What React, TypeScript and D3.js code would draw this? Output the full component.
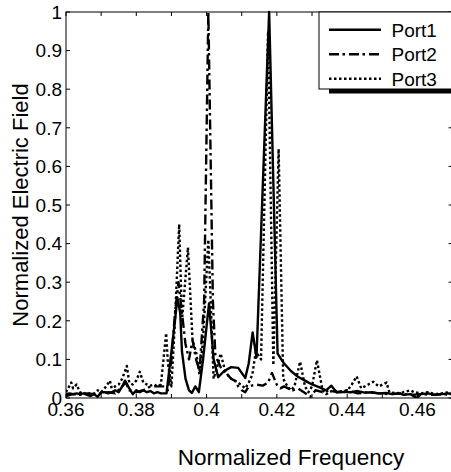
import React from "react";
import * as d3 from "d3";

// Port1 (solid) frequency / field samples
const port1Freq = [
  0.36, 0.361, 0.362, 0.363, 0.364, 0.365, 0.366, 0.367, 0.368, 0.369, 0.37, 0.371, 0.372, 0.373,
  0.374, 0.375, 0.376, 0.3768, 0.378, 0.379, 0.38, 0.381, 0.382, 0.383, 0.384, 0.385, 0.386,
  0.387, 0.3886, 0.39, 0.391, 0.3917, 0.3925, 0.393, 0.394, 0.395, 0.3958, 0.3968, 0.3978,
  0.399, 0.4007, 0.402, 0.4033, 0.405, 0.407, 0.409, 0.41, 0.411, 0.412, 0.4131, 0.4142,
  0.4178, 0.4202, 0.422, 0.424, 0.426, 0.428, 0.43, 0.432, 0.434, 0.4355, 0.437, 0.439, 0.441,
  0.443, 0.445, 0.447, 0.449, 0.451, 0.453, 0.455, 0.456, 0.458, 0.4598, 0.461, 0.463, 0.465,
  0.467, 0.469, 0.47,
];
const port1Val = [
  0.01, 0.012, 0.01, 0.012, 0.01, 0.012, 0.008, 0.005, 0.01, 0.003, 0.015, 0.015, 0.012, 0.015,
  0.02, 0.015, 0.03, 0.045, 0.025, 0.01, 0.02, 0.015, 0.02, 0.015, 0.018, 0.012, 0.015, 0.012,
  0.012, 0.12, 0.2, 0.26, 0.22, 0.12, 0.05, 0.02, 0.013, 0.03, 0.015, 0.1, 0.245, 0.1, 0.054,
  0.07, 0.08, 0.078, 0.065, 0.052, 0.09, 0.17, 0.105, 1.0, 0.115, 0.09, 0.07, 0.055, 0.045,
  0.035, 0.028, 0.02, 0.032, 0.015, 0.016, 0.015, 0.018, 0.014, 0.015, 0.012, 0.013, 0.01,
  0.012, 0.008, 0.01, 0.0, 0.01, 0.012, 0.008, 0.01, 0.012, 0.008,
];

// Port2 (dash-dot)
const port2Freq = [
  0.36, 0.362, 0.364, 0.366, 0.368, 0.37, 0.372, 0.374, 0.376, 0.377, 0.378, 0.38, 0.382,
  0.384, 0.386, 0.388, 0.389, 0.39, 0.391, 0.392, 0.393, 0.394, 0.395, 0.396, 0.397, 0.398,
  0.3993, 0.4005, 0.4018, 0.4025, 0.403, 0.404, 0.405, 0.406, 0.407, 0.408, 0.409, 0.41, 0.411,
  0.412, 0.414, 0.416, 0.4175, 0.4186, 0.42, 0.421, 0.422, 0.4245, 0.426, 0.428, 0.4295, 0.431,
  0.433, 0.435, 0.437, 0.44, 0.443, 0.446, 0.449, 0.452, 0.455, 0.458, 0.461, 0.464, 0.467,
  0.47,
];
const port2Val = [
  0.005, 0.01, 0.008, 0.012, 0.01, 0.012, 0.015, 0.012, 0.03, 0.04, 0.02, 0.015, 0.02, 0.03,
  0.03, 0.03, 0.02, 0.1, 0.22, 0.3, 0.22, 0.14, 0.1, 0.15, 0.1, 0.07, 0.25, 1.0, 0.25, 0.11,
  0.1, 0.08, 0.07, 0.06, 0.05, 0.045, 0.03, 0.02, 0.015, 0.03, 0.035, 0.032, 0.04, 0.065,
  0.034, 0.025, 0.03, 0.02, 0.025, 0.013, 0.003, 0.02, 0.015, 0.02, 0.015, 0.02, 0.012, 0.015,
  0.012, 0.01, 0.012, 0.008, 0.01, 0.008, 0.01, 0.008,
];

// Port3 (dotted)
const port3Freq = [
  0.36, 0.3615, 0.362, 0.363, 0.364, 0.365, 0.366, 0.367, 0.368, 0.369, 0.37, 0.371, 0.3725,
  0.373, 0.374, 0.375, 0.376, 0.3773, 0.378, 0.379, 0.38, 0.381, 0.382, 0.383, 0.384, 0.385,
  0.386, 0.387, 0.3885, 0.389, 0.39, 0.391, 0.3922, 0.393, 0.3947, 0.396, 0.397, 0.398, 0.399,
  0.4005, 0.402, 0.403, 0.404, 0.405, 0.406, 0.407, 0.409, 0.411, 0.412, 0.413, 0.414, 0.4155,
  0.4175, 0.419, 0.4205, 0.4218, 0.423, 0.424, 0.425, 0.4266, 0.428, 0.429, 0.43, 0.4314,
  0.433, 0.434, 0.436, 0.438, 0.44, 0.441, 0.4427, 0.444, 0.446, 0.4474, 0.449, 0.4512, 0.452,
  0.454, 0.456, 0.458, 0.459, 0.461, 0.463, 0.465, 0.467, 0.469, 0.47,
];
const port3Val = [
  0.015, 0.04, 0.025, 0.035, 0.015, 0.01, 0.015, 0.01, 0.012, 0.02, 0.015, 0.025, 0.045, 0.025,
  0.03, 0.035, 0.05, 0.083, 0.04, 0.035, 0.045, 0.068, 0.04, 0.035, 0.032, 0.035, 0.03, 0.035,
  0.168, 0.09, 0.03, 0.2, 0.45, 0.2, 0.39, 0.15, 0.12, 0.06, 0.15, 0.41, 0.05, 0.08, 0.115,
  0.08, 0.06, 0.05, 0.04, 0.025, 0.04, 0.06, 0.12, 0.1, 0.95, 0.085, 0.645, 0.05, 0.03, 0.02,
  0.03, 0.094, 0.03, 0.015, 0.03, 0.098, 0.02, 0.01, 0.02, 0.015, 0.02, 0.03, 0.056, 0.025,
  0.035, 0.042, 0.03, 0.04, 0.015, 0.012, 0.015, 0.02, 0.015, 0.012, 0.015, 0.01, 0.012, 0.015,
  0.012,
];

const seriesNames = ["Port1", "Port2", "Port3"];
const yTicks = [0, 0.1, 0.2, 0.3, 0.4, 0.5, 0.6, 0.7, 0.8, 0.9, 1];
const yTickLabels = ["0", "0.1", "0.2", "0.3", "0.4", "0.5", "0.6", "0.7", "0.8", "0.9", "1"];
const xTicks = [0.36, 0.37, 0.38, 0.39, 0.4, 0.41, 0.42, 0.43, 0.44, 0.45, 0.46, 0.47];
const xLabelTicks = [0.36, 0.38, 0.4, 0.42, 0.44, 0.46];
const xTickLabels = ["0.36", "0.38", "0.4", "0.42", "0.44", "0.46"];

const font = "'Liberation Sans', Arial, Helvetica, sans-serif";
const dashes = ["none", "10,3.5,2.5,4", "2.5,2.5"];

export default function App() {
  const left = 66,
    top = 12,
    bottom = 398,
    right = 452.6;
  const x = d3.scaleLinear().domain([0.36, 0.47]).range([left, right]);
  const y = d3.scaleLinear().domain([0, 1]).range([bottom, top]);

  const line = d3
    .line<[number, number]>()
    .x((d) => x(d[0]))
    .y((d) => y(d[1]));

  const series = [
    d3.zip(port1Freq, port1Val) as [number, number][],
    d3.zip(port2Freq, port2Val) as [number, number][],
    d3.zip(port3Freq, port3Val) as [number, number][],
  ];

  const tl = 4;

  return (
    <svg
      width={451}
      height={472}
      style={{ position: "fixed", left: 0, top: 0, background: "#fff" }}
      fontFamily={font}
    >
      <defs>
        <clipPath id="plot">
          <rect x={left} y={top - 2} width={right - left} height={bottom - top + 2} />
        </clipPath>
      </defs>
      <rect width={451} height={472} fill="#fff" />

      {/* data */}
      <g clipPath="url(#plot)" fill="none" stroke="#000" strokeWidth={2.4} strokeLinejoin="round">
        {series.map((s, i) => (
          <path key={i} d={line(s) || ""} strokeDasharray={dashes[i]} />
        ))}
      </g>

      {/* axes box */}
      <rect x={left} y={top} width={right - left} height={bottom - top} fill="none" stroke="#000" strokeWidth={1} />

      {/* y ticks */}
      {yTicks.map((t, i) => (
        <g key={"y" + i}>
          <line x1={left} x2={left + tl} y1={y(t)} y2={y(t)} stroke="#000" />
          <line x1={right - tl} x2={right} y1={y(t)} y2={y(t)} stroke="#000" />
          <text x={62} y={y(t)} dy="0.36em" textAnchor="end" fontSize={19}>
            {yTickLabels[i]}
          </text>
        </g>
      ))}

      {/* x ticks */}
      {xTicks.map((t, i) => (
        <g key={"x" + i}>
          <line x1={x(t)} x2={x(t)} y1={bottom} y2={bottom - tl} stroke="#000" />
          <line x1={x(t)} x2={x(t)} y1={top} y2={top + tl} stroke="#000" />
        </g>
      ))}
      {xLabelTicks.map((t, i) => (
        <text key={"xl" + i} x={x(t)} y={415.5} textAnchor="middle" fontSize={19}>
          {xTickLabels[i]}
        </text>
      ))}

      {/* axis titles */}
      <text x={291} y={465} textAnchor="middle" fontSize={22.5}>
        Normalized Frequency
      </text>
      <text transform="translate(28,205) rotate(-90)" textAnchor="middle" fontSize={22}>
        Normalized Electric Field
      </text>

      {/* legend */}
      <rect x={329} y={89} width={130} height={4.5} fill="#000" />
      <rect x={319} y={top} width={140} height={77} fill="#fff" stroke="#000" strokeWidth={1} />
      {seriesNames.map((n, i) => {
        const base = 36.7 + i * 24.5;
        return (
          <g key={n}>
            <line
              x1={329}
              x2={381}
              y1={base - 7}
              y2={base - 7}
              stroke="#000"
              strokeWidth={2.4}
              strokeDasharray={dashes[i]}
            />
            <text x={391.5} y={base} fontSize={19}>
              {n}
            </text>
          </g>
        );
      })}
    </svg>
  );
}
